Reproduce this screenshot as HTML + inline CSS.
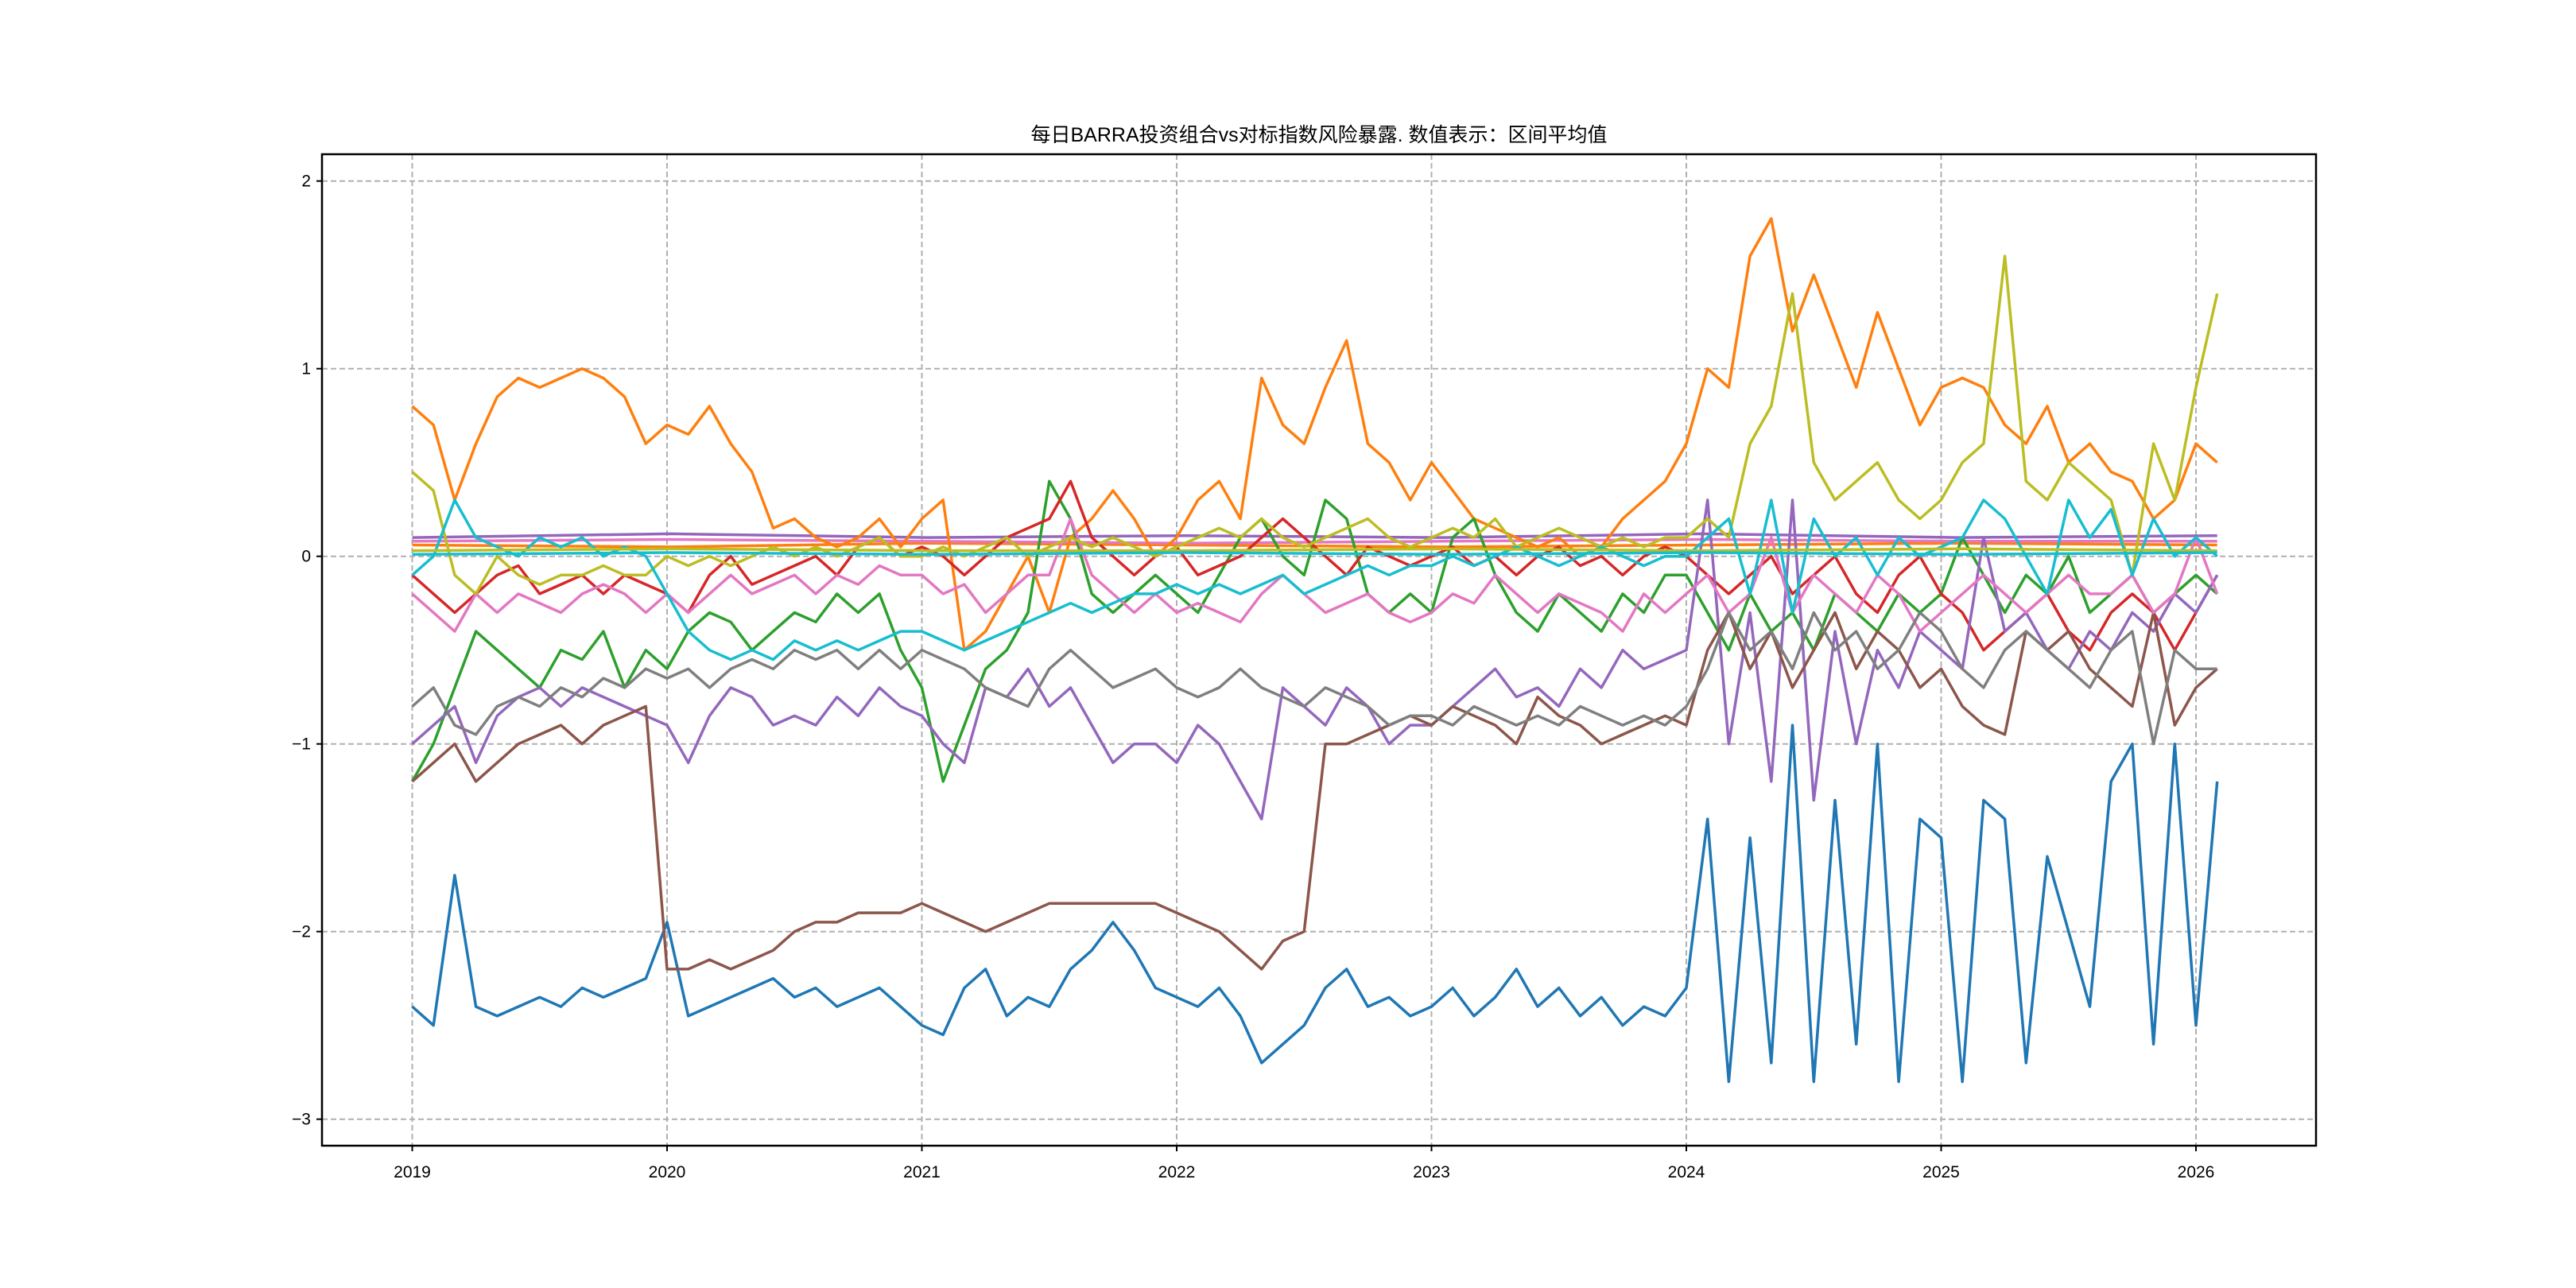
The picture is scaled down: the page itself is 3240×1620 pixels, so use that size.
<!DOCTYPE html>
<html><head><meta charset="utf-8"><style>
html,body{margin:0;padding:0;background:#fff;}
svg{display:block;font-family:"Liberation Sans","Noto Sans CJK SC",sans-serif;}
</style></head><body>
<svg id="chart" width="3240" height="1620" viewBox="0 0 3240 1620" xmlns="http://www.w3.org/2000/svg">
<rect width="3240" height="1620" fill="#fff"/>
<text x="1659" y="178" font-size="25" text-anchor="middle" fill="#000">每日BARRA投资组合vs对标指数风险暴露. 数值表示：区间平均值</text>
<g id="grid"></g><g id="series"></g><g id="axes"></g>
</svg>
<script>
const xTicks=[2019,2020,2021,2022,2023,2024,2025,2026];
const yTicks=[2,1,0,-1,-2,-3];
const startYear=2019;
const blue=[-2.4,-2.5,-1.7,-2.4,-2.45,-2.4,-2.35,-2.4,-2.3,-2.35,-2.3,-2.25,
-1.95,-2.45,-2.4,-2.35,-2.3,-2.25,-2.35,-2.3,-2.4,-2.35,-2.3,-2.4,
-2.5,-2.55,-2.3,-2.2,-2.45,-2.35,-2.4,-2.2,-2.1,-1.95,-2.1,-2.3,
-2.35,-2.4,-2.3,-2.45,-2.7,-2.6,-2.5,-2.3,-2.2,-2.4,-2.35,-2.45,
-2.4,-2.3,-2.45,-2.35,-2.2,-2.4,-2.3,-2.45,-2.35,-2.5,-2.4,-2.45,
-2.3,-1.4,-2.8,-1.5,-2.7,-0.9,-2.8,-1.3,-2.6,-1.0,-2.8,-1.4,
-1.5,-2.8,-1.3,-1.4,-2.7,-1.6,-2.0,-2.4,-1.2,-1.0,-2.6,-1.0,
-2.5,-1.2];
const orange=[0.8,0.7,0.3,0.6,0.85,0.95,0.9,0.95,1.0,0.95,0.85,0.6,
0.7,0.65,0.8,0.6,0.45,0.15,0.2,0.1,0.05,0.1,0.2,0.05,
0.2,0.3,-0.5,-0.4,-0.2,0.0,-0.3,0.1,0.2,0.35,0.2,0.0,
0.1,0.3,0.4,0.2,0.95,0.7,0.6,0.9,1.15,0.6,0.5,0.3,
0.5,0.35,0.2,0.15,0.1,0.05,0.1,0.0,0.05,0.2,0.3,0.4,
0.6,1.0,0.9,1.6,1.8,1.2,1.5,1.2,0.9,1.3,1.0,0.7,
0.9,0.95,0.9,0.7,0.6,0.8,0.5,0.6,0.45,0.4,0.2,0.3,
0.6,0.5];
const green=[-1.2,-1.0,-0.7,-0.4,-0.5,-0.6,-0.7,-0.5,-0.55,-0.4,-0.7,-0.5,
-0.6,-0.4,-0.3,-0.35,-0.5,-0.4,-0.3,-0.35,-0.2,-0.3,-0.2,-0.5,
-0.7,-1.2,-0.9,-0.6,-0.5,-0.3,0.4,0.2,-0.2,-0.3,-0.2,-0.1,
-0.2,-0.3,-0.1,0.1,0.2,0.0,-0.1,0.3,0.2,-0.2,-0.3,-0.2,
-0.3,0.1,0.2,-0.1,-0.3,-0.4,-0.2,-0.3,-0.4,-0.2,-0.3,-0.1,
-0.1,-0.3,-0.5,-0.2,-0.4,-0.3,-0.5,-0.2,-0.3,-0.4,-0.2,-0.3,
-0.2,0.1,-0.1,-0.3,-0.1,-0.2,0.0,-0.3,-0.2,-0.1,-0.3,-0.2,
-0.1,-0.2];
const red=[-0.1,-0.2,-0.3,-0.2,-0.1,-0.05,-0.2,-0.15,-0.1,-0.2,-0.1,-0.15,
-0.2,-0.3,-0.1,0.0,-0.15,-0.1,-0.05,0.0,-0.1,0.05,0.1,0.0,
0.05,0.0,-0.1,0.0,0.1,0.15,0.2,0.4,0.1,0.0,-0.1,0.0,
0.05,-0.1,-0.05,0.0,0.1,0.2,0.1,0.0,-0.1,0.05,0.0,-0.05,
0.0,0.05,-0.05,0.0,-0.1,0.0,0.05,-0.05,0.0,-0.1,0.0,0.05,
0.0,-0.1,-0.2,-0.1,0.0,-0.2,-0.1,0.0,-0.2,-0.3,-0.1,0.0,
-0.2,-0.3,-0.5,-0.4,-0.3,-0.2,-0.4,-0.5,-0.3,-0.2,-0.3,-0.5,
-0.3,-0.1];
const purple=[-1.0,-0.9,-0.8,-1.1,-0.85,-0.75,-0.7,-0.8,-0.7,-0.75,-0.8,-0.85,
-0.9,-1.1,-0.85,-0.7,-0.75,-0.9,-0.85,-0.9,-0.75,-0.85,-0.7,-0.8,
-0.85,-1.0,-1.1,-0.7,-0.75,-0.6,-0.8,-0.7,-0.9,-1.1,-1.0,-1.0,
-1.1,-0.9,-1.0,-1.2,-1.4,-0.7,-0.8,-0.9,-0.7,-0.8,-1.0,-0.9,
-0.9,-0.8,-0.7,-0.6,-0.75,-0.7,-0.8,-0.6,-0.7,-0.5,-0.6,-0.55,
-0.5,0.3,-1.0,-0.3,-1.2,0.3,-1.3,-0.4,-1.0,-0.5,-0.7,-0.4,
-0.5,-0.6,0.1,-0.4,-0.3,-0.5,-0.6,-0.4,-0.5,-0.3,-0.4,-0.2,
-0.3,-0.1];
const brown=[-1.2,-1.1,-1.0,-1.2,-1.1,-1.0,-0.95,-0.9,-1.0,-0.9,-0.85,-0.8,
-2.2,-2.2,-2.15,-2.2,-2.15,-2.1,-2.0,-1.95,-1.95,-1.9,-1.9,-1.9,
-1.85,-1.9,-1.95,-2.0,-1.95,-1.9,-1.85,-1.85,-1.85,-1.85,-1.85,-1.85,
-1.9,-1.95,-2.0,-2.1,-2.2,-2.05,-2.0,-1.0,-1.0,-0.95,-0.9,-0.85,
-0.9,-0.8,-0.85,-0.9,-1.0,-0.75,-0.85,-0.9,-1.0,-0.95,-0.9,-0.85,
-0.9,-0.5,-0.3,-0.6,-0.4,-0.7,-0.5,-0.3,-0.6,-0.4,-0.5,-0.7,
-0.6,-0.8,-0.9,-0.95,-0.4,-0.5,-0.4,-0.6,-0.7,-0.8,-0.3,-0.9,
-0.7,-0.6];
const pink=[-0.2,-0.3,-0.4,-0.2,-0.3,-0.2,-0.25,-0.3,-0.2,-0.15,-0.2,-0.3,
-0.2,-0.3,-0.2,-0.1,-0.2,-0.15,-0.1,-0.2,-0.1,-0.15,-0.05,-0.1,
-0.1,-0.2,-0.15,-0.3,-0.2,-0.1,-0.1,0.2,-0.1,-0.2,-0.3,-0.2,
-0.3,-0.25,-0.3,-0.35,-0.2,-0.1,-0.2,-0.3,-0.25,-0.2,-0.3,-0.35,
-0.3,-0.2,-0.25,-0.1,-0.2,-0.3,-0.2,-0.25,-0.3,-0.4,-0.2,-0.3,
-0.2,-0.1,-0.3,-0.2,0.1,-0.3,-0.1,-0.2,-0.3,-0.1,-0.2,-0.4,
-0.3,-0.2,-0.1,-0.2,-0.3,-0.2,-0.1,-0.2,-0.2,-0.1,-0.3,-0.2,
0.1,-0.2];
const gray=[-0.8,-0.7,-0.9,-0.95,-0.8,-0.75,-0.8,-0.7,-0.75,-0.65,-0.7,-0.6,
-0.65,-0.6,-0.7,-0.6,-0.55,-0.6,-0.5,-0.55,-0.5,-0.6,-0.5,-0.6,
-0.5,-0.55,-0.6,-0.7,-0.75,-0.8,-0.6,-0.5,-0.6,-0.7,-0.65,-0.6,
-0.7,-0.75,-0.7,-0.6,-0.7,-0.75,-0.8,-0.7,-0.75,-0.8,-0.9,-0.85,
-0.85,-0.9,-0.8,-0.85,-0.9,-0.85,-0.9,-0.8,-0.85,-0.9,-0.85,-0.9,
-0.8,-0.6,-0.3,-0.5,-0.4,-0.6,-0.3,-0.5,-0.4,-0.6,-0.5,-0.3,
-0.4,-0.6,-0.7,-0.5,-0.4,-0.5,-0.6,-0.7,-0.5,-0.4,-1.0,-0.5,
-0.6,-0.6];
const olive=[0.45,0.35,-0.1,-0.2,0.0,-0.1,-0.15,-0.1,-0.1,-0.05,-0.1,-0.1,
0.0,-0.05,0.0,-0.05,0.0,0.05,0.0,0.05,0.0,0.05,0.1,0.0,
0.0,0.05,0.0,0.05,0.1,0.0,0.05,0.1,0.05,0.1,0.05,0.0,
0.05,0.1,0.15,0.1,0.2,0.1,0.05,0.1,0.15,0.2,0.1,0.05,
0.1,0.15,0.1,0.2,0.05,0.1,0.15,0.1,0.05,0.1,0.05,0.1,
0.1,0.2,0.1,0.6,0.8,1.4,0.5,0.3,0.4,0.5,0.3,0.2,
0.3,0.5,0.6,1.6,0.4,0.3,0.5,0.4,0.3,-0.1,0.6,0.3,
0.9,1.4];
const cyan=[-0.1,0.0,0.3,0.1,0.05,0.0,0.1,0.05,0.1,0.0,0.05,0.0,
-0.2,-0.4,-0.5,-0.55,-0.5,-0.55,-0.45,-0.5,-0.45,-0.5,-0.45,-0.4,
-0.4,-0.45,-0.5,-0.45,-0.4,-0.35,-0.3,-0.25,-0.3,-0.25,-0.2,-0.2,
-0.15,-0.2,-0.15,-0.2,-0.15,-0.1,-0.2,-0.15,-0.1,-0.05,-0.1,-0.05,
-0.05,0.0,-0.05,0.0,0.05,0.0,-0.05,0.0,0.05,0.0,-0.05,0.0,
0.0,0.1,0.2,-0.2,0.3,-0.3,0.2,0.0,0.1,-0.1,0.1,0.0,
0.05,0.1,0.3,0.2,0.0,-0.2,0.3,0.1,0.25,-0.1,0.2,0.0,
0.1,0.0];
const flatA=[0.1,0.12,0.1,0.11,0.1,0.12,0.1,0.11];
const flatB=[0.06,0.05,0.07,0.06,0.05,0.06,0.07,0.06];
const flatC=[0.03,0.04,0.03,0.03,0.04,0.03,0.04,0.03];
const flatD=[0.08,0.09,0.08,0.07,0.08,0.09,0.08,0.08];
const flatE=[0.01,0.02,0.01,0.02,0.01,0.02,0.01,0.02];

const AX={l:405,r:2913,t:194,b:1441};
function xS(t){return 518.5+(t-2019)*320.5;}
function yS(v){return 699.7-v*236;}
const NS="http://www.w3.org/2000/svg";
function mk(tag,attrs,parent){const e=document.createElementNS(NS,tag);for(const k in attrs)e.setAttribute(k,attrs[k]);parent.appendChild(e);return e;}
const grid=document.getElementById('grid'),ser=document.getElementById('series'),axes=document.getElementById('axes');
xTicks.forEach(t=>{const x=xS(t);
 const g=mk('line',{x1:x,x2:x,y1:AX.t,y2:AX.b,stroke:'#b0b0b0','stroke-width':2,'stroke-dasharray':'7,4'},grid);
 
 
 const tk=mk('line',{x1:x,x2:x,y1:AX.b,y2:AX.b+7,stroke:'#000','stroke-width':2},axes);
 
 
 const lb=mk('text',{x:x,y:AX.b+40,'font-size':21,'text-anchor':'middle',fill:'#000'},axes);lb.textContent=t;
 
 
});
yTicks.forEach(v=>{const y=yS(v);
 const g=mk('line',{x1:AX.l,x2:AX.r,y1:y,y2:y,stroke:'#b0b0b0','stroke-width':2,'stroke-dasharray':'7,4'},grid);
 
 
 const tk=mk('line',{x1:AX.l-7,x2:AX.l,y1:y,y2:y,stroke:'#000','stroke-width':2},axes);
 
 
 const lb=mk('text',{x:AX.l-14,y:y+7,'font-size':21,'text-anchor':'end',fill:'#000'},axes);lb.textContent=(v<0?'−'+(-v):v);
 
 
});
const frame=mk('rect',{x:AX.l,y:AX.t,width:AX.r-AX.l,height:AX.b-AX.t,fill:'none',stroke:'#000','stroke-width':2.5},axes);


function draw(arr,color,name,span){
 const n=arr.length;const step=span?span/(n-1):1/12;
 const pts=arr.map((v,i)=>xS(startYear+i*step).toFixed(1)+','+yS(v).toFixed(1)).join(' ');
 const p=mk('polyline',{points:pts,fill:'none',stroke:color,'stroke-width':3.5,'stroke-linejoin':'round'},ser);
 
 
}
const span=85/12;
draw(flatA,'#9467bd','series-flat-a',span);
draw(flatB,'#ff7f0e','series-flat-b',span);
draw(flatD,'#e377c2','series-flat-d',span);
draw(blue,'#1f77b4','series-blue');
draw(orange,'#ff7f0e','series-orange');
draw(green,'#2ca02c','series-green');
draw(red,'#d62728','series-red');
draw(purple,'#9467bd','series-purple');
draw(brown,'#8c564b','series-brown');
draw(pink,'#e377c2','series-pink');
draw(gray,'#7f7f7f','series-gray');
draw(olive,'#bcbd22','series-olive');
draw(cyan,'#17becf','series-cyan');
draw(flatC,'#bcbd22','series-flat-c',span);
draw(flatE,'#17becf','series-flat-e',span);
</script>
</body></html>
